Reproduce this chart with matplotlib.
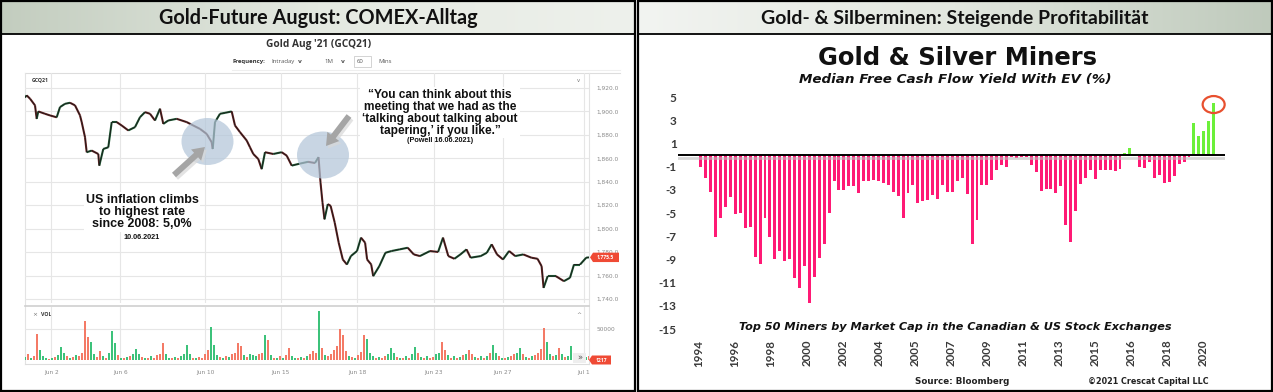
import numpy as np
import matplotlib
matplotlib.use('Agg')
import matplotlib.pyplot as plt
from matplotlib.patches import Rectangle, Ellipse, FancyArrow, Polygon
from matplotlib.colors import LinearSegmentedColormap
from matplotlib.collections import LineCollection

W, H = 1273, 392

# ---------------- Left panel data: Gold Aug '21 (GCQ21), 60-min ----------------
price_hours = [0, 1.7, 5, 10, 11.7, 13.3, 20, 25, 31.7, 35, 40, 45, 50, 55, 56.7, 60, 61.7, 66.7,
               73.3, 74.3, 78.3, 83.3, 86.7, 91.7, 96.7, 103.3, 110, 115, 120, 125, 130, 135, 138.3,
               143.3, 151.7, 161.7, 168.3, 175, 181.7, 186.7, 187.7, 190, 195, 200, 206.7, 210, 215,
               221.7, 225, 228.3, 233.3, 236.7, 240, 248.3, 256.7, 261.7, 266.7, 275, 283, 290, 293.5,
               295.5, 297.5, 299.5, 302.8, 305.6, 309.7, 313.7, 317.8, 321.9, 325.9, 332, 336, 340.1,
               342.1, 346.2, 348.2, 354.3, 360.4, 366.5, 374.6, 382.7, 388.8, 394.9, 405, 413.1, 418,
               423.3, 429.4, 435.4, 441.5, 445.6, 455.7, 461.8, 466.7, 472, 478, 484.1, 490.2, 498.3,
               506.4, 512.5, 516.6, 518.6, 522.7, 530.8, 538.9, 545, 549, 555.1, 561.2, 564]
price_values = [1912, 1913.7, 1910.9, 1905.2, 1893.7, 1900, 1898, 1896.6, 1895, 1903.7, 1906.5, 1907.4,
                1905.2, 1896.6, 1890.9, 1878, 1865.2, 1866.6, 1863.7, 1853.8, 1868, 1869.4, 1890.9,
                1890.9, 1888, 1883.8, 1886.6, 1895.1, 1899.4, 1898, 1892.3, 1902.3, 1889.4, 1892.3,
                1893.7, 1890.9, 1888, 1885.1, 1880.8, 1873.7, 1868, 1890.9, 1898, 1898.8, 1900, 1888,
                1882.3, 1875.2, 1869.4, 1863.7, 1859.4, 1850.8, 1865.2, 1863.7, 1865.2, 1862.3, 1853.8,
                1855.5, 1857, 1856, 1861, 1839.5, 1822.3, 1808, 1820.9, 1819.5, 1805.2, 1788, 1773.7,
                1769.4, 1776.6, 1780.9, 1792.3, 1788, 1773.7, 1769.4, 1759.5, 1768, 1779.4, 1780.9,
                1782.3, 1783.7, 1778, 1776.6, 1780.9, 1780.1, 1792.3, 1776.6, 1774.3, 1778, 1782.3,
                1775.2, 1776.6, 1779.4, 1786.6, 1778, 1773.7, 1780.9, 1776.6, 1778, 1775.2, 1774.3,
                1768, 1749.5, 1759.5, 1759.5, 1755.2, 1758.1, 1769.4, 1769.4, 1775.2, 1775.5]
price_ticks = [1740, 1760, 1780, 1800, 1820, 1840, 1860, 1880, 1900, 1920]
date_tick_hours = [26.5, 95.5, 180, 255.7, 332, 409, 478, 559]
date_tick_labels = ['Jun 2', 'Jun 6', 'Jun 10', 'Jun 15', 'Jun 18', 'Jun 23', 'Jun 27', 'Jul 1']
last_price = 1775.5
last_volume = 1217

vol_hours = list(range(0, 565, 3))
vol_thousands = [5, 9, 4, 6, 42, 16, 7, 3, 2, 4, 5, 8, 21, 12, 6, 3, 5, 8, 6, 12,
                 64, 38, 30, 9, 5, 15, 6, 4, 12, 47, 27, 8, 4, 3, 5, 7, 9, 18, 10, 5,
                 3, 4, 6, 3, 8, 10, 27, 9, 4, 3, 5, 4, 7, 10, 24, 9, 4, 3, 5, 4,
                 10, 16, 53, 24, 8, 5, 3, 6, 5, 9, 12, 27, 22, 8, 5, 10, 8, 6, 9, 12,
                 41, 33, 8, 4, 3, 6, 4, 8, 19, 7, 4, 3, 5, 4, 6, 9, 14, 11, 79, 19,
                 8, 6, 9, 16, 22, 50, 41, 14, 6, 5, 4, 8, 13, 40, 35, 12, 6, 4, 5, 3,
                 7, 9, 20, 11, 5, 3, 4, 6, 4, 10, 21, 12, 5, 3, 6, 4, 5, 9, 12, 30,
                 17, 8, 4, 6, 3, 5, 8, 10, 16, 10, 5, 4, 6, 3, 7, 11, 24, 12, 6, 4,
                 3, 5, 6, 9, 12, 19, 10, 5, 4, 6, 8, 12, 18, 52, 30, 10, 6, 8, 19, 9,
                 5, 7, 22, 10, 6, 4, 8, 5, 6]
vol_dir = list("grgrrgggrgrgggrgrgrr"
               "rrggrrgrgggrgrgrgggr"
               "grgrrrrggrgrggggrgrr"
               "rrgggrgrgrrrrgrgggrr"
               "grgrgrgrrggrgrgrrrgr"
               "grrrrrrrgrgrrrgggrgr"
               "rgggrgrgrggrgrgrrggr"
               "rgrgrgrgrrgrgrgrggrg"
               "rgrrggrgrgrrrrggrgrg"
               "rggggrggr")

# ---------------- Right panel data: Gold & Silver Miners FCF yield (%) ----------------
fcf_yield = [-0.1, -1.0, -2.0, -3.2, -7.1, -5.4, -4.5, -3.6, -5.1, -5.0,
             -6.3, -6.2, -8.8, -9.4, -5.4, -7.1, -9.0, -8.3, -9.1, -9.0,
             -10.6, -11.45, -9.6, -12.8, -10.5, -8.9, -7.7, -5.0, -2.2, -3.0,
             -3.0, -2.7, -2.7, -3.25, -2.2, -2.2, -2.15, -2.2, -2.4, -2.6,
             -3.2, -3.5, -5.4, -3.3, -2.6, -4.1, -4.0, -3.9, -3.45, -3.8,
             -2.6, -3.2, -3.2, -2.2, -1.95, -3.4, -7.7, -5.6, -2.6, -2.6,
             -2.15, -1.3, -0.85, -1.0, -0.2, -0.3, -0.2, -0.15, -0.9, -1.5,
             -3.1, -2.9, -2.9, -3.3, -2.7, -6.0, -7.5, -4.8, -2.5, -2.0,
             -1.3, -2.1, -1.3, -1.3, -1.3, -1.35, -1.2, 0.2, 0.6, -0.1,
             -1.0, -1.1, -0.6, -2.0, -1.7, -2.4, -2.3, -1.8, -0.8, -0.6,
             -0.2, 2.8, 1.6, 2.1, 2.9, 4.5]
year_labels = ['1994', '1996', '1998', '2000', '2002', '2004', '2005', '2007',
               '2009', '2011', '2013', '2015', '2016', '2018', '2020']
yield_ticks = [5, 3, 1, -1, -3, -5, -7, -9, -11, -13, -15]


def frac(x0, y0, x1, y1):
    return [x0 / W, 1 - y1 / H, (x1 - x0) / W, (y1 - y0) / H]


fig = plt.figure(figsize=(W / 100, H / 100), dpi=100)
fig.patch.set_facecolor('white')

# ---------- decoration layer (pixel coordinates, y downwards) ----------
deco = fig.add_axes([0, 0, 1, 1], zorder=0)
deco.axis('off')
grad = np.linspace(0, 1, 256)[None, :]
deco.imshow(grad, extent=(1, 634, 34, 1), aspect='auto',
            cmap=LinearSegmentedColormap.from_list('l', ['#c3cdbf', '#e4e9e1', '#eef1ec']))
deco.imshow(grad, extent=(638, 1272, 34, 1), aspect='auto',
            cmap=LinearSegmentedColormap.from_list('r', ['#f2f4f1', '#e2e7df', '#bfcabc']))
deco.set_xlim(0, W)
deco.set_ylim(H, 0)
for x0 in (1, 638):
    deco.add_patch(Rectangle((x0, 1), 633.5, 390, fill=False, ec='black', lw=1.6))
    deco.plot([x0, x0 + 633.5], [34, 34], color='black', lw=1.3)

deco.text(318, 18, 'Gold-Future August: COMEX-Alltag', ha='center', va='center',
          fontsize=14.3, fontweight='bold', family='Lato', color='#111111')
deco.text(955, 18, 'Gold- & Silberminen: Steigende Profitabilität', ha='center', va='center',
          fontsize=14.0, fontweight='bold', family='Lato', color='#111111')

# Barchart header
deco.text(318.5, 44.5, "Gold Aug '21 (GCQ21)", ha='center', va='center', fontsize=7.3,
          fontweight='bold', family='Open Sans', color='#333333')
deco.text(232.5, 61.5, 'Frequency:', ha='left', va='center', fontsize=4.3, fontweight='bold',
          family='Open Sans', color='#333333')
deco.text(271, 61.5, 'Intraday', ha='left', va='center', fontsize=4.3, family='Open Sans', color='#555555')
deco.text(300, 61.5, 'v', ha='center', va='center', fontsize=4.3, fontweight='bold', color='#555555')
deco.text(324.5, 61.5, '1M', ha='left', va='center', fontsize=4.3, family='Open Sans', color='#555555')
deco.text(343, 61.5, 'v', ha='center', va='center', fontsize=4.3, fontweight='bold', color='#555555')
deco.add_patch(Rectangle((353.5, 56), 17.5, 11, fill=False, ec='#cccccc', lw=0.6))
deco.text(357, 61.5, '60', ha='left', va='center', fontsize=4.3, family='Open Sans', color='#555555')
deco.text(378, 61.5, 'Mins', ha='left', va='center', fontsize=4.3, family='Open Sans', color='#555555')
deco.plot([232, 620], [69.5, 69.5], color='#eeeeee', lw=0.8)
deco.plot([25, 620], [73, 73], color='#dddddd', lw=0.8)
deco.plot([25, 25], [73, 364], color='#e3e3e3', lw=0.8)
deco.plot([589, 589], [73, 364], color='#e3e3e3', lw=0.8)
deco.plot([25, 589], [305.5, 305.5], color='#cfcfcf', lw=1.2)
deco.plot([25, 589], [363.5, 363.5], color='#dddddd', lw=0.8)
deco.text(31.5, 80, 'GCQ21', ha='left', va='center', fontsize=3.8, fontweight='bold',
          family='Open Sans', color='#333333')
deco.text(578, 80.5, 'v', ha='center', va='center', fontsize=3.8, color='#777777')
deco.text(32, 314.3, '×', ha='left', va='center', fontsize=4.3, color='#777777')
deco.text(41, 314.3, 'VOL', ha='left', va='center', fontsize=3.8, fontweight='bold',
          family='Open Sans', color='#333333')
deco.text(578.5, 314.5, '^', ha='center', va='center', fontsize=4.3, color='#777777')

# ---------- price panel ----------
px_per_usd = 1.172
p_top = 1920 + (88 - 73) / px_per_usd
p_bot = 1920 - (303 - 88) / px_per_usd
pax = fig.add_axes(frac(25, 73, 589, 303), zorder=2)
pax.set_xlim(0, 564)
pax.set_ylim(p_bot, p_top)
pax.patch.set_alpha(0)
for s in pax.spines.values():
    s.set_visible(False)
pax.yaxis.tick_right()
pax.set_yticks(price_ticks)
pax.set_yticklabels([f'{v:,.1f}' for v in price_ticks])
pax.tick_params(axis='y', length=0, pad=5.5, labelsize=4.2, labelcolor='#8a8a8a')
pax.set_xticks(date_tick_hours)
pax.tick_params(axis='x', length=0, labelbottom=False)
pax.grid(True, color='#e6e6e6', lw=0.8)
pax.set_axisbelow(True)
ph = np.array(price_hours)
pv = np.array(price_values)
segs = np.stack([np.column_stack([ph[:-1], pv[:-1]]), np.column_stack([ph[1:], pv[1:]])], axis=1)
cols = ['#1f5e36' if b >= a else '#6e2323' for a, b in zip(pv[:-1], pv[1:])]
pax.add_collection(LineCollection(segs, colors=cols, linewidths=1.5, zorder=3))
pax.plot(ph, pv, color='#1a1a1a', lw=0.6, zorder=4)

# ---------- volume panel ----------
vol = np.array(vol_thousands) * 1000
vax = fig.add_axes(frac(25, 307, 589, 360), zorder=2)
vax.set_xlim(0, 564)
vax.set_ylim(0, 50000 * 53 / 30.7)
vax.patch.set_alpha(0)
for s in vax.spines.values():
    s.set_visible(False)
vax.bar(vol_hours, vol, width=2.0,
        color=['#3cc27a' if d == 'g' else '#f47a66' for d in vol_dir], linewidth=0)
vax.yaxis.tick_right()
vax.set_yticks([50000])
vax.set_yticklabels(['50000'])
vax.tick_params(axis='y', length=0, pad=5.5, labelsize=4.2, labelcolor='#8a8a8a')
vax.set_xticks(date_tick_hours)
vax.set_xticklabels(date_tick_labels)
vax.tick_params(axis='x', length=0, pad=7.0, labelsize=4.2, labelcolor='#8a8a8a')
vax.grid(True, color='#e6e6e6', lw=0.8)
vax.set_axisbelow(True)

# ---------- right panel bar chart ----------
bax = fig.add_axes(frac(678, 91.2, 1225, 334.8), zorder=2)
idx = np.arange(len(fcf_yield))
vals = np.array(fcf_yield)
bax.bar(idx, vals, width=0.6, color=np.where(vals >= 0, '#6cf03a', '#ff1a75'), linewidth=0)
bax.set_xlim(-3.65, 107.3)
bax.set_ylim(-15.5, 5.5)
bax.patch.set_alpha(0)
for s in bax.spines.values():
    s.set_visible(False)
bax.axhline(-0.22, color='#bdbdbd', lw=2.0, alpha=0.6, zorder=1)
bax.axhline(0, color='black', lw=1.4, zorder=4)
bax.set_yticks(yield_ticks)
bax.set_yticklabels([str(v) for v in yield_ticks])
bax.tick_params(axis='y', length=0, pad=1.0, labelsize=8.5, labelcolor='#3a3a3a')
bax.set_xticks(np.linspace(0.6, 102.8, len(year_labels)))
bax.set_xticklabels(year_labels, rotation=90)
bax.tick_params(axis='x', length=0, pad=3.5, labelsize=8.3, labelcolor='#3a3a3a')
for lab in bax.get_xticklabels() + bax.get_yticklabels():
    lab.set_fontfamily('Lato')
    lab.set_fontweight('bold')
bax.add_patch(Ellipse((len(fcf_yield) - 1, 4.35), 22 / 4.93, 17 / 11.6, fill=False,
                      ec='#e8502f', lw=1.6, clip_on=False, zorder=5))

deco.text(957, 65, 'Gold & Silver Miners', ha='center', va='baseline', fontsize=17.5,
          fontweight='bold', family='DejaVu Sans', color='#111111')
deco.text(955, 83, 'Median Free Cash Flow Yield With EV (%)', ha='center', va='baseline',
          fontsize=9.7, fontweight='bold', style='italic', family='DejaVu Sans', color='#111111')
deco.text(955, 330, 'Top 50 Miners by Market Cap in the Canadian & US Stock Exchanges',
          ha='center', va='baseline', fontsize=8.1, fontweight='bold', style='italic',
          family='DejaVu Sans', color='#111111')
deco.text(962, 382, 'Source: Bloomberg', ha='center', va='center', fontsize=6.3,
          fontweight='bold', family='DejaVu Sans', color='#222222')
deco.text(1148, 382, '©2021 Crescat Capital LLC', ha='center', va='center', fontsize=5.8,
          fontweight='bold', family='DejaVu Sans', color='#222222')

# ---------- annotation overlay ----------
over = fig.add_axes([0, 0, 1, 1], zorder=6)
over.set_xlim(0, W)
over.set_ylim(H, 0)
over.axis('off')
over.patch.set_alpha(0)

for (cx, cy) in [(207.5, 141.5), (323, 155)]:
    over.add_patch(Ellipse((cx, cy), 52, 47, color='#b3c6d9', alpha=0.72, lw=0))

for (x0, y0, x1, y1) in [(174, 175, 205, 147), (349, 116, 326, 146)]:
    over.add_patch(FancyArrow(x0 + 2, y0 + 2.5, x1 - x0, y1 - y0, width=6, head_width=15,
                              head_length=12, length_includes_head=True, color='#d8d8d8',
                              alpha=0.7, lw=0))
    over.add_patch(FancyArrow(x0, y0, x1 - x0, y1 - y0, width=6, head_width=15,
                              head_length=12, length_includes_head=True, color='#a5a5a5', lw=0))

over.text(142, 212, 'US inflation climbs\nto highest rate\nsince 2008: 5,0%', ha='center',
          va='center', fontsize=9, fontweight='bold', family='Liberation Sans',
          color='#111111', linespacing=1.05,
          bbox=dict(boxstyle='square,pad=0.15', fc='white', ec='none'))
over.text(142, 237.5, '10.06.2021', ha='center', va='center', fontsize=5.2, fontweight='bold',
          family='Liberation Sans', color='#111111')
over.text(440, 112.5, '\u201cYou can think about this\nmeeting that we had as the\n'
          '\u2018talking about talking about\ntapering,\u2019 if you like.\u201d',
          ha='center', va='center', fontsize=8.6, fontweight='bold', family='Liberation Sans',
          color='#111111', linespacing=1.0,
          bbox=dict(boxstyle='square,pad=0.15', fc='white', ec='none'))
over.text(440, 140.5, '(Powell 16.06.2021)', ha='center', va='center', fontsize=5.2,
          fontweight='bold', family='Liberation Sans', color='#111111')

# price tag & volume tag
y_last = 88 + (1920 - last_price) * px_per_usd
over.add_patch(Polygon([(590, y_last), (593, y_last - 4.7), (619, y_last - 4.7),
                        (619, y_last + 4.7), (593, y_last + 4.7)], closed=True,
                       fc='#ef4a35', ec='none'))
over.text(605.5, y_last, f'{last_price:,.1f}', ha='center', va='center', fontsize=3.6,
          fontweight='bold', color='white', family='Open Sans')
over.add_patch(Polygon([(589, 360), (592, 355.5), (611, 355.5), (611, 364.5), (592, 364.5)],
                       closed=True, fc='#ef4a35', ec='none'))
over.text(601, 360, f'{last_volume}', ha='center', va='center', fontsize=3.6, fontweight='bold',
          color='white', family='Open Sans')
over.add_patch(Rectangle((573, 353), 13, 10, fc='#eeeeee', ec='none'))
over.text(579.5, 358, '»', ha='center', va='center', fontsize=6, color='#555555')

fig.savefig('out.png', dpi=100, facecolor='white')
